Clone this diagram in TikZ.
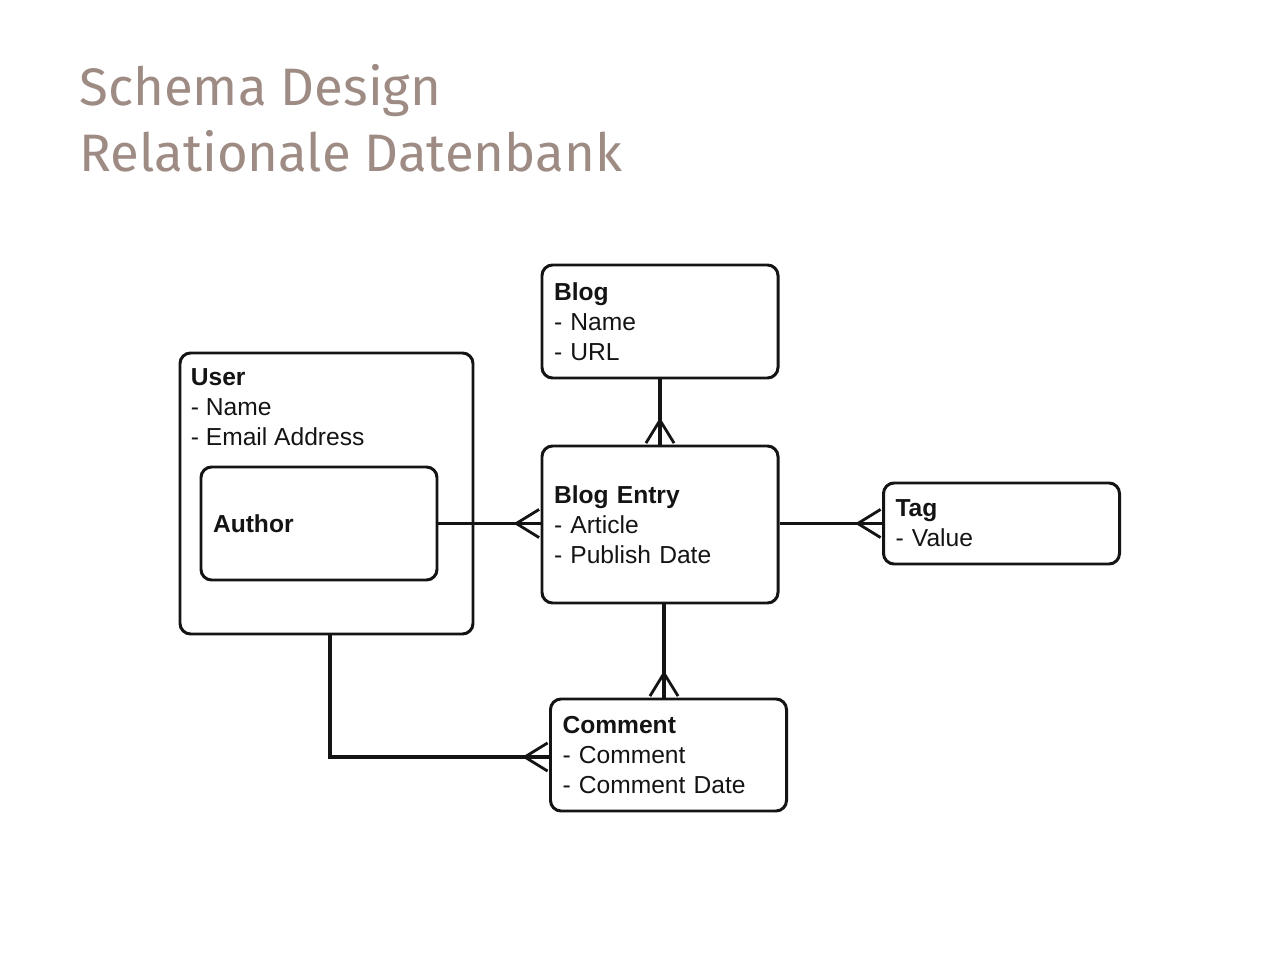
\documentclass[tikz,border=0pt]{standalone}
\usepackage{fontspec}
\setmainfont{Liberation Sans}
\newfontfamily\titlefont{Fira Sans}
\usetikzlibrary{arrows.meta, positioning}
\definecolor{titlegray}{RGB}{158,140,132}
\definecolor{inkblack}{RGB}{20,20,20}

\begin{document}
\begin{tikzpicture}[
    entity/.style={draw=inkblack, line width=1.7pt, rounded corners=6pt, text=inkblack, align=left, text width=4.24cm, inner xsep=0.24cm, font=\fontsize{14}{17}\selectfont},
    attrs/.style={text=inkblack, align=left, inner sep=0pt, font=\fontsize{14}{17}\selectfont},
    rel/.style={draw=inkblack, line width=1.8pt},
    many/.style={postaction={draw=inkblack, -{Straight Barb[reversed, length=13pt, width=16pt, line width=1.6pt]}}}
]
    \useasboundingbox (0,0) rectangle (25.6,-19.2);

    % Title
    \node[anchor=base west, text=titlegray, font=\titlefont\fontsize{30}{38}\selectfont, align=left, inner sep=0pt] (title) at (1.58,-3.44) {Schema Design\\Relationale Datenbank};

    % Entities
    \node[entity, minimum height=2.26cm] (blog) at (13.2,-6.43) {\textbf{Blog}\\- Name\\- URL};
    \node[entity, minimum height=3.14cm] (entry) at (13.2,-10.49) {\textbf{Blog Entry}\\- Article\\- Publish Date};
    \node[entity, minimum height=1.62cm] (tag) at (20.03,-10.47) {\textbf{Tag}\\- Value};
    \node[entity, minimum height=2.24cm] (comment) at (13.37,-15.1) {\textbf{Comment}\\- Comment\\- Comment Date};

    % User with nested Author
    \node[entity, text width=5.38cm, minimum height=5.62cm] (user) at (6.53,-9.87) {};
    \node[attrs, anchor=north west] (usertext) at ([xshift=0.24cm, yshift=-0.34cm]user.north west) {\textbf{User}\\- Name\\- Email Address};
    \node[entity, minimum height=2.26cm] (author) at (6.38,-10.47) {\textbf{Author}};

    % Relations
    \draw[rel, many] (blog) -- (entry);
    \draw[rel, many] (author.east) -- (author.east -| entry.west);
    \draw[rel, many] (entry.east |- tag.west) -- (tag.west);
    \draw[rel, many] ([xshift=0.08cm]entry.south) -- ([xshift=0.08cm]entry.south |- comment.north);
    \draw[rel, many] ([xshift=0.07cm]user.south) |- ([yshift=-0.04cm]comment.west);
\end{tikzpicture}
\end{document}
